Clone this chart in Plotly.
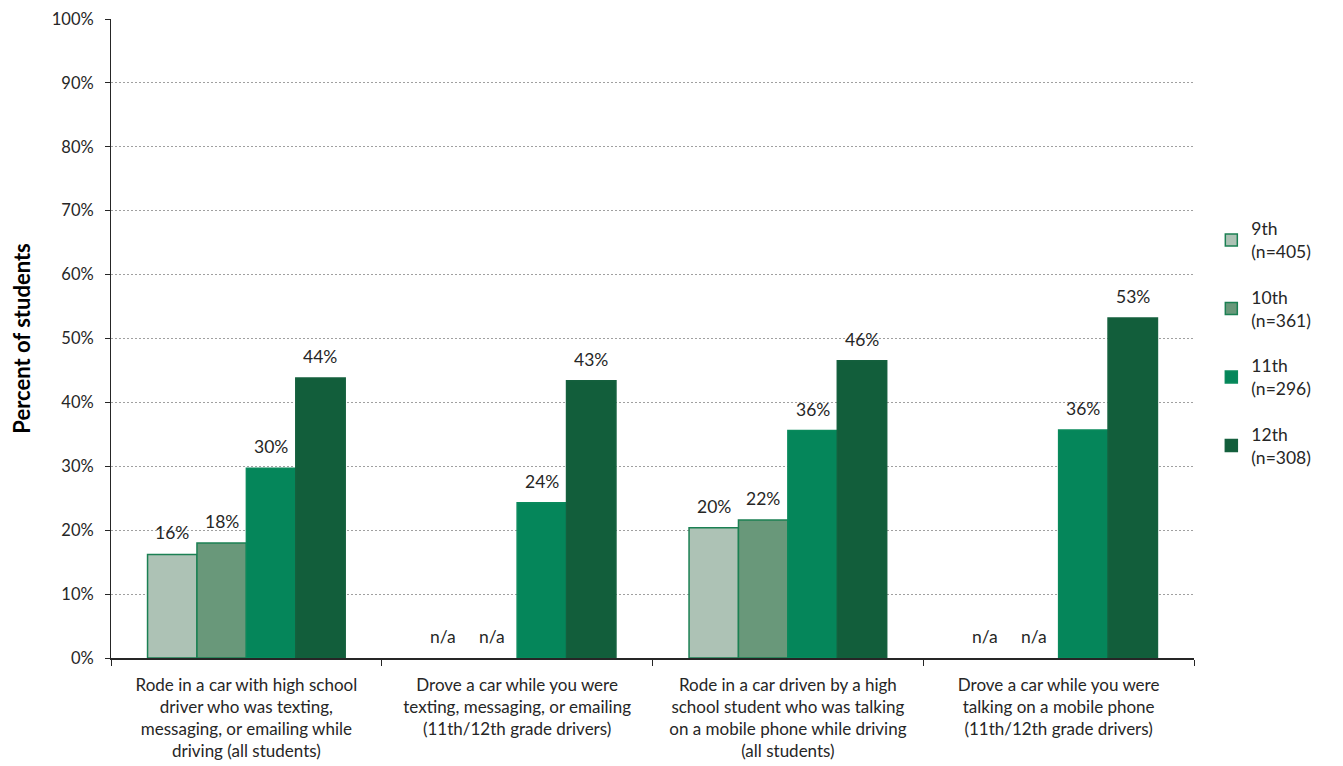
import plotly.graph_objects as go

categories = [
    "Rode in a car with high school<br>driver who was texting,<br>messaging, or emailing while<br>driving (all students)",
    "Drove a car while you were<br>texting, messaging, or emailing<br>(11th/12th grade drivers)",
    "Rode in a car driven by a high<br>school student who was talking<br>on a mobile phone while driving<br>(all students)",
    "Drove a car while you were<br>talking on a mobile phone<br>(11th/12th grade drivers)",
]
series_names = ["9th<br>(n=405)", "10th<br>(n=361)", "11th<br>(n=296)", "12th<br>(n=308)"]
grade_9 = [16.2, None, 20.4, None]
grade_10 = [18.0, None, 21.6, None]
grade_11 = [29.7, 24.3, 35.6, 35.7]
grade_12 = [43.8, 43.4, 46.5, 53.2]
y_ticks = [0, 10, 20, 30, 40, 50, 60, 70, 80, 90, 100]

colors = ["#ADC2B5", "#69987A", "#05865A", "#125E3B"]
line_colors = ["#1B8053", "#1B8053", "#0A8A5C", "#15603E"]
FONT = "Lato, Open Sans, sans-serif"
TXT = "#262626"

# page body has an 8px margin, so the figure is sized to the remaining window
W, H = 1335, 758
ML, MR, MT, MB = 103, 149, 11, 108
BARGAP = 0.27
all_series = [grade_9, grade_10, grade_11, grade_12]
n_series = len(all_series)

fig = go.Figure()
for i, (name, vals) in enumerate(zip(series_names, all_series)):
    fig.add_trace(go.Bar(
        x=categories, y=vals, name=name,
        marker=dict(color=colors[i], line=dict(color=line_colors[i], width=1.5)),
        legendgroup=f"g{i}",
    ))

# data labels (positioned from the values, shifted to each bar's slot in the group)
cat_px = (W - ML - MR) / len(categories)
bar_px = cat_px * (1 - BARGAP) / n_series
for i, vals in enumerate(all_series):
    dx = (i - (n_series - 1) / 2) * bar_px
    for c, v in zip(categories, vals):
        fig.add_annotation(
            x=c, y=v if v is not None else 0, xref="x", yref="y",
            text=f"{v:.0f}%" if v is not None else "n/a",
            showarrow=False, xshift=dx, yshift=9, yanchor="bottom",
            font=dict(family=FONT, size=17.5, color=TXT),
        )

fig.update_layout(
    width=W, height=H,
    barmode="group", bargap=BARGAP, bargroupgap=0,
    plot_bgcolor="white", paper_bgcolor="white",
    margin=dict(l=ML, r=MR, t=MT, b=MB),
    font=dict(family=FONT, size=16, color=TXT),
    legend=dict(x=1.016, y=0.70, xanchor="left", yanchor="top",
                traceorder="grouped", tracegroupgap=20,
                font=dict(family=FONT, size=17.5, color=TXT),
                itemwidth=30),
    showlegend=True,
)
fig.update_yaxes(
    range=[0, 100], tickvals=y_ticks, ticktext=[f"{t}%" for t in y_ticks],
    showgrid=True, gridcolor="#A0A0A0", griddash="2px,2px", gridwidth=1,
    showline=True, linecolor=TXT, linewidth=1,
    ticks="outside", ticklen=5, tickcolor=TXT, ticklabelstandoff=8,
    tickfont=dict(family=FONT, size=16.5, color=TXT),
    title=dict(text="<b>Percent of students</b>", font=dict(family=FONT, size=22, color="#000000"), standoff=16),
    zeroline=False, automargin=False,
)
fig.update_xaxes(
    showline=True, linecolor=TXT, linewidth=1.5,
    ticks="outside", ticklen=6, tickcolor=TXT, tickson="boundaries",
    ticklabelstandoff=11,
    tickfont=dict(family=FONT, size=17, color=TXT),
    showgrid=False, automargin=False,
)

fig.write_html("out.html")
